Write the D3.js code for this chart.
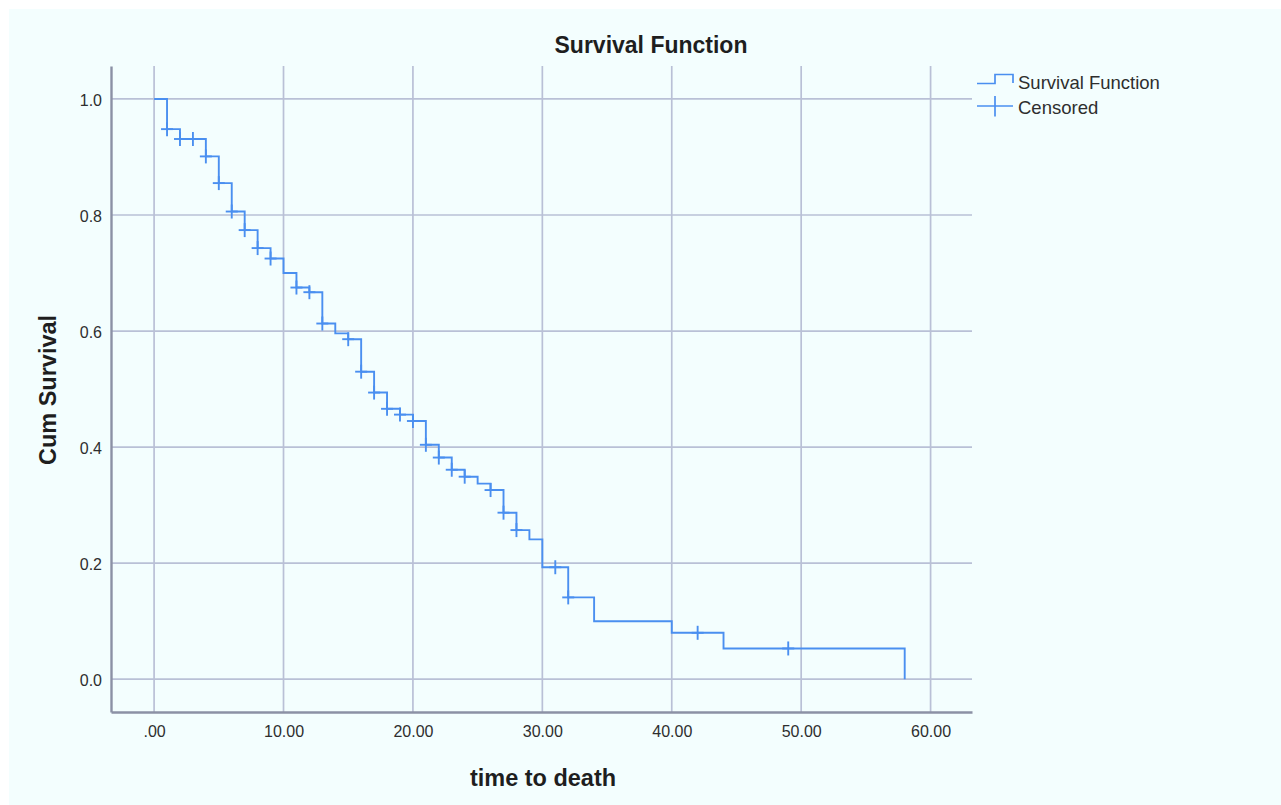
<!DOCTYPE html>
<html>
<head>
<meta charset="utf-8">
<script src="https://cdn.jsdelivr.net/npm/d3@7"></script>
<style>
  body { margin: 0; background: #ffffff; }
  svg { display: block; }
  text { font-family: "Liberation Sans", Arial, sans-serif; }
</style>
</head>
<body>
<div id="vis-div"></div>
<script>
'use strict'

// step function: time of each drop and the survival after it
const stepTimes = [0, 1, 2, 4, 5, 6, 7, 8, 9, 10, 11, 12, 13, 14, 15, 16, 17, 18, 19, 20,
	21, 22, 23, 24, 25, 26, 27, 28, 29, 30, 32, 34, 40, 44, 58]
const stepSurv = [1.0, 0.948, 0.931, 0.901, 0.855, 0.806, 0.774, 0.743, 0.725, 0.700, 0.675, 0.667,
	0.613, 0.596, 0.586, 0.530, 0.494, 0.466, 0.456, 0.445, 0.404, 0.382, 0.361, 0.349, 0.337,
	0.326, 0.287, 0.257, 0.241, 0.193, 0.141, 0.100, 0.080, 0.053, 0.0]
// censored cases (times)
const censorTimes = [1, 2, 3, 4, 5, 6, 7, 8, 9, 11, 12, 13, 15, 16, 17, 18, 19, 20, 21, 22, 23, 24,
	26, 27, 28, 31, 32, 42, 49]

const xTicks = [0, 10, 20, 30, 40, 50, 60]
const yTicks = [0, 0.2, 0.4, 0.6, 0.8, 1.0]
const legendLabels = ["Survival Function", "Censored"]

function wrapper(){

	let width = 1281
	let height = 805
	let plot = {left: 111, right: 972, top: 66, bottom: 712}
	let lineColor = "#4a8ff0"
	let gridColor = "#b9c0d6"
	let axisColor = "#8b91a5"
	let xFormat = function(d){ return d == 0 ? ".00" : d3.format(".2f")(d) }

	let svg = d3.select("#vis-div").append("svg")
		.attr("width", width)
		.attr("height", height)

	svg.append("rect")
		.attr("x", 9).attr("y", 9)
		.attr("width", width - 9).attr("height", height - 9)
		.attr("fill", "#f3fefe")

	let x = d3.scaleLinear().domain([-3.33, 63.2]).range([plot.left, plot.right])
	let y = d3.scaleLinear().domain([-0.0565, 1.0568]).range([plot.bottom, plot.top])

	// grid
	svg.append("g").selectAll("line").data(xTicks).join("line")
		.attr("x1", d => x(d)).attr("x2", d => x(d))
		.attr("y1", plot.top).attr("y2", plot.bottom)
		.attr("stroke", gridColor).attr("stroke-width", 1.7)
	svg.append("g").selectAll("line").data(yTicks).join("line")
		.attr("x1", plot.left).attr("x2", plot.right)
		.attr("y1", d => y(d)).attr("y2", d => y(d))
		.attr("stroke", gridColor).attr("stroke-width", 1.7)

	// axes (no tick marks, just labels)
	let xAxis = svg.append("g")
		.attr("transform", "translate(0," + plot.bottom + ")")
		.call(d3.axisBottom(x).tickValues(xTicks).tickFormat(xFormat).tickSize(0).tickPadding(14))
	let yAxis = svg.append("g")
		.attr("transform", "translate(" + plot.left + ",0)")
		.call(d3.axisLeft(y).tickValues(yTicks).tickFormat(d3.format(".1f")).tickSize(0).tickPadding(9))
	;[xAxis, yAxis].forEach(function(a){
		a.select(".domain").attr("stroke", axisColor).attr("stroke-width", 2.4)
		a.selectAll("text").attr("font-size", "16px").attr("fill", "#2e2e2e")
			.attr("font-family", "'Liberation Sans', Arial, sans-serif")
	})
	yAxis.selectAll("text").attr("dy", "0.4em")

	// survival curve
	let pts = []
	stepTimes.forEach(function(t, i){
		if (i > 0) pts.push([t, stepSurv[i - 1]])
		pts.push([t, stepSurv[i]])
	})
	let line = d3.line().x(d => x(d[0])).y(d => y(d[1]))
	svg.append("path").datum(pts)
		.attr("d", line)
		.attr("fill", "none")
		.attr("stroke", lineColor)
		.attr("stroke-width", 1.9)

	function survAt(t){
		let s = 1
		stepTimes.forEach(function(st, i){ if (st <= t) s = stepSurv[i] })
		return s
	}

	let cg = svg.append("g").attr("stroke", lineColor).attr("stroke-width", 1.9)
	censorTimes.forEach(function(t){
		let cx = x(t), cy = y(survAt(t))
		cg.append("line").attr("x1", cx).attr("x2", cx).attr("y1", cy - 7).attr("y2", cy + 7)
		cg.append("line").attr("x1", cx - 6).attr("x2", cx + 6).attr("y1", cy).attr("y2", cy)
	})

	// titles
	svg.append("text").attr("x", 651).attr("y", 53)
		.attr("text-anchor", "middle").attr("font-size", "23px").attr("font-weight", "bold")
		.attr("fill", "#1e1e1e").text("Survival Function")
	svg.append("text").attr("x", 543).attr("y", 786)
		.attr("text-anchor", "middle").attr("font-size", "23.5px").attr("font-weight", "bold")
		.attr("fill", "#1e1e1e").text("time to death")
	svg.append("text").attr("transform", "translate(56,390) rotate(-90)")
		.attr("text-anchor", "middle").attr("font-size", "23.5px").attr("font-weight", "bold")
		.attr("fill", "#1e1e1e").text("Cum Survival")

	// legend
	let lg = svg.append("g")
	lg.append("path")
		.attr("d", "M977,83.5 H995 V74.5 H1013 V83")
		.attr("fill", "none").attr("stroke", lineColor).attr("stroke-width", 1.7)
	lg.append("line").attr("x1", 977).attr("x2", 1013).attr("y1", 106).attr("y2", 106)
		.attr("stroke", lineColor).attr("stroke-width", 1.7)
	lg.append("line").attr("x1", 995).attr("x2", 995).attr("y1", 96).attr("y2", 116.5)
		.attr("stroke", lineColor).attr("stroke-width", 1.7)
	lg.selectAll("text").data(legendLabels).join("text")
		.attr("x", 1018).attr("y", (d, i) => 89 + i * 25)
		.attr("font-size", "18.5px").attr("fill", "#2e2e2e")
		.text(d => d)
}

wrapper();
</script>
</body>
</html>
